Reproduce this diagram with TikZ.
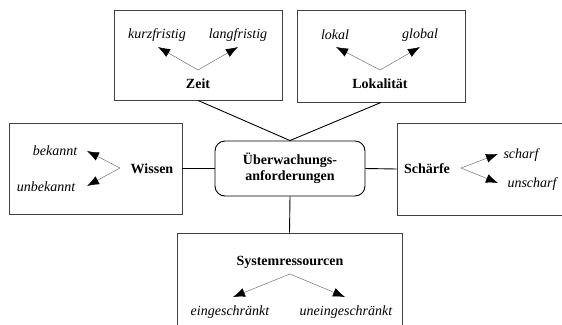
\documentclass[tikz,border=0pt]{standalone}
\usepackage{fontspec}
\setmainfont{Liberation Serif}
\usetikzlibrary{arrows.meta}
\begin{document}
\begin{tikzpicture}[x=1pt,y=-1pt,
  box/.style={draw=black!75,line width=0.9pt,minimum width=#1,inner sep=0pt},
  lbl/.style={font=\fontsize{14}{16}\selectfont\itshape,inner sep=0pt},
  ttl/.style={font=\fontsize{14}{16}\selectfont\bfseries,inner sep=0pt},
  arr/.style={draw=black!55,line width=0.5pt,-{Latex[length=12pt,width=9pt,color=black]}},
  conn/.style={draw=black,line width=0.9pt}]
\useasboundingbox (0,0) rectangle (562,324);
\clip (0,0) rectangle (562,324);
% boxes
\node[box=168pt,minimum height=90pt] (zeit) at (198,55) {};
\node[box=168pt,minimum height=92pt] (lok) at (381,56) {};
\node[box=173pt,minimum height=91pt] (wis) at (95.5,168.5) {};
\node[box=183pt,minimum height=92pt] (sch) at (488.5,169) {};
\node[box=225pt,minimum height=110pt] (sys) at (289.5,288) {};
\node[draw=black,line width=0.9pt,rounded corners=10pt,minimum width=150pt,minimum height=55pt,inner sep=0pt,align=center,font=\fontsize{14}{16}\selectfont\bfseries] (ctr) at (290,168.5) {Überwachungs-\\anforderungen};
% connectors
\draw[conn] (zeit.south) -- (ctr.north);
\draw[conn] (lok.south) -- (ctr.north);
\draw[conn] (wis.east) -- (ctr.west);
\draw[conn] (ctr.east) -- (sch.west);
\draw[conn] (ctr.south) -- (sys.north);
% Zeit
\node[lbl] (kurz) at (157,35) {kurzfristig};
\node[lbl] (lang) at (238,35) {langfristig};
\node[ttl] (zeitT) at (198,84) {Zeit};
\coordinate (zH) at (198,70);
\coordinate (zL) at (158,47);
\coordinate (zR) at (238,47);
\draw[arr] (zH) -- (zL);
\draw[arr] (zH) -- (zR);
% Lokalitaet
\node[lbl] (lokal) at (335,35) {lokal};
\node[lbl] (glob) at (420,35) {global};
\node[ttl] (lokT) at (380,84) {Lokalität};
\coordinate (lH) at (380,70);
\coordinate (lL) at (336,47);
\coordinate (lR) at (420,47);
\draw[arr] (lH) -- (lL);
\draw[arr] (lH) -- (lR);
% Wissen
\node[lbl] (bek) at (55,151) {bekannt};
\node[lbl] (unbek) at (46,187) {unbekannt};
\node[ttl] (wisT) at (152,169) {Wissen};
\coordinate (wH) at (120,168);
\coordinate (wU) at (87,151);
\coordinate (wD) at (87,186);
\draw[arr] (wH) -- (wU);
\draw[arr] (wH) -- (wD);
% Schaerfe
\node[ttl] (schT) at (427,169) {Schärfe};
\node[lbl] (scharf) at (521,155) {scharf};
\node[lbl] (unsch) at (532,184) {unscharf};
\coordinate (sH) at (461,168);
\coordinate (sU) at (498,154);
\coordinate (sD) at (498,183);
\draw[arr] (sH) -- (sU);
\draw[arr] (sH) -- (sD);
% Systemressourcen
\node[ttl] (sysT) at (290,262) {Systemressourcen};
\node[lbl] (ein) at (230,312) {eingeschränkt};
\node[lbl] (unein) at (346,312) {uneingeschränkt};
\coordinate (yH) at (290,274);
\coordinate (yL) at (233,297);
\coordinate (yR) at (345,297);
\draw[arr] (yH) -- (yL);
\draw[arr] (yH) -- (yR);
\end{tikzpicture}
\end{document}
